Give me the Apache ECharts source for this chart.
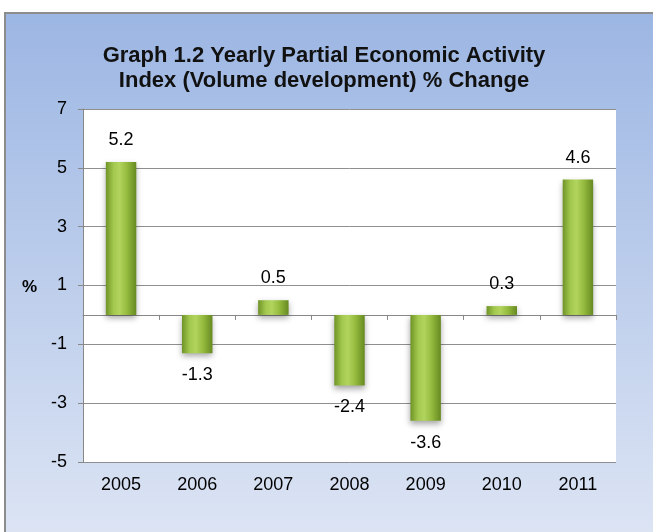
<!DOCTYPE html>
<html>
<head>
<meta charset="utf-8">
<script src="https://cdn.jsdelivr.net/npm/echarts@6/dist/echarts.min.js"></script>
<style>
html,body{margin:0;padding:0;background:#fff;}
#c{width:653px;height:532px;}
</style>
</head>
<body>
<div id="c"></div>
<script>
var categories = ['2005','2006','2007','2008','2009','2010','2011'];
var values = [5.2, -1.3, 0.5, -2.4, -3.6, 0.3, 4.6];
var yTicks = [-5, -3, -1, 1, 3, 5, 7];
var titleText = 'Graph 1.2 Yearly Partial Economic Activity\nIndex (Volume development) % Change';

var chart = echarts.init(document.getElementById('c'), null, {renderer:'canvas'});
var FONT = '"Liberation Sans", Arial, sans-serif';
var barColor = new echarts.graphic.LinearGradient(0,0,1,0,[
  {offset:0, color:'#6f9427'},
  {offset:0.25, color:'#a3c84e'},
  {offset:0.45, color:'#b2d45e'},
  {offset:0.7, color:'#94ba3d'},
  {offset:1, color:'#668922'}
]);
chart.setOption({
  animation:false,
  graphic:[{
    type:'rect', z:-10,
    shape:{x:5, y:13, width:660, height:530},
    style:{
      fill:new echarts.graphic.LinearGradient(0,0,0,1,[
        {offset:0,color:'#9cb6e3'},
        {offset:1,color:'#dde5f4'}
      ]),
      stroke:'#8c8c8c', lineWidth:2
    }
  },{
    type:'rect', z:-9,
    shape:{x:83, y:109, width:533, height:353},
    style:{fill:'#ffffff'}
  },{
    type:'text', left:22, top:279,
    style:{text:'%', font:'bold 17px '+FONT, fill:'#000'}
  }],
  title:{
    text:titleText, left:319, top:38, textAlign:'center',
    textStyle:{fontFamily:FONT, fontSize:22, fontWeight:'bold', color:'#111', lineHeight:25}
  },
  grid:{left:83, right:37, top:109, bottom:70},
  xAxis:[{
    type:'category', data:categories,
    axisLine:{onZero:true, lineStyle:{color:'#888', width:1}},
    axisTick:{show:true, lineStyle:{color:'#888'}, length:5},
    axisLabel:{show:false}
  },{
    type:'category', data:categories, position:'bottom',
    axisLine:{show:false, onZero:false}, axisTick:{show:false},
    axisLabel:{fontFamily:FONT, fontSize:18, color:'#000', margin:14}
  }],
  yAxis:{
    type:'value', min:-5, max:7, interval:2,
    axisLine:{show:true, lineStyle:{color:'#888'}},
    axisTick:{show:true, length:5, lineStyle:{color:'#888'}},
    axisLabel:{fontFamily:FONT, fontSize:18, color:'#000', margin:16,
      formatter:function(v){return yTicks.indexOf(v)>=0?String(v):'';}},
    splitLine:{lineStyle:{color:'#8f8f8f', width:1}}
  },
  series:[{
    type:'bar', data:values.map(function(v){
      return {value:v, label:{position: v>=0?'top':'bottom'}};
    }),
    barWidth:'40%',
    itemStyle:{color:barColor, shadowColor:'rgba(0,0,0,0.35)', shadowBlur:6, shadowOffsetY:3},
    label:{show:true, fontFamily:FONT, fontSize:18, color:'#000', distance:13,
      formatter:function(p){return p.value.toFixed(1);}}
  }]
});
</script>
</body>
</html>
